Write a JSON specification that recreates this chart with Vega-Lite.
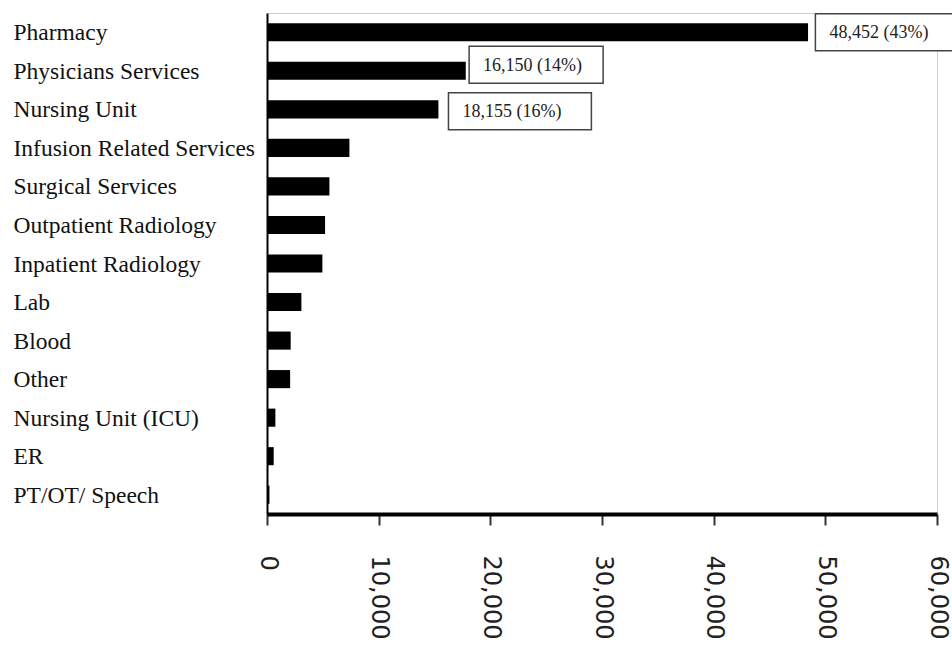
{
  "$schema": "https://vega.github.io/schema/vega-lite/v6.json",
  "width": 670,
  "height": 501,
  "padding": {"left": 13, "top": 13, "right": 0, "bottom": 0},
  "background": "white",
  "config": {
    "view": {"stroke": "#d0d0d0", "strokeWidth": 1}
  },
  "datasets": {
    "bars": [
      {"category": "Pharmacy", "value": 48452},
      {"category": "Physicians Services", "value": 17800},
      {"category": "Nursing Unit", "value": 15350},
      {"category": "Infusion Related Services", "value": 7380},
      {"category": "Surgical Services", "value": 5590},
      {"category": "Outpatient Radiology", "value": 5200},
      {"category": "Inpatient Radiology", "value": 4960},
      {"category": "Lab", "value": 3080},
      {"category": "Blood", "value": 2120},
      {"category": "Other", "value": 2070},
      {"category": "Nursing Unit (ICU)", "value": 750},
      {"category": "ER", "value": 600},
      {"category": "PT/OT/ Speech", "value": 220}
    ],
    "notes": [
      {"category": "Pharmacy", "start": 49110, "end": 61500, "label": "48,452 (43%)"},
      {"category": "Physicians Services", "start": 18100, "end": 30100, "label": "16,150 (14%)"},
      {"category": "Nursing Unit", "start": 16250, "end": 29050, "label": "18,155 (16%)"}
    ]
  },
  "layer": [
    {
      "data": {"name": "bars"},
      "mark": {"type": "bar", "color": "#000000"},
      "encoding": {
        "y": {
          "field": "category",
          "type": "nominal",
          "scale": {
            "domain": ["Pharmacy", "Physicians Services", "Nursing Unit", "Infusion Related Services", "Surgical Services", "Outpatient Radiology", "Inpatient Radiology", "Lab", "Blood", "Other", "Nursing Unit (ICU)", "ER", "PT/OT/ Speech"],
            "paddingInner": 0.53,
            "paddingOuter": 0.265
          },
          "axis": {
            "title": null,
            "ticks": false,
            "tickSize": 0,
            "labelAlign": "left",
            "labelPadding": 254,
            "labelFont": "Liberation Serif",
            "labelFontSize": 23.5,
            "labelColor": "#111111",
            "labelLimit": 300,
            "labelOffset": 1,
            "domainColor": "#000000",
            "domainWidth": 2
          }
        },
        "x": {
          "field": "value",
          "type": "quantitative",
          "scale": {"domain": [0, 60000], "nice": false},
          "axis": {
            "title": null,
            "values": [0, 10000, 20000, 30000, 40000, 50000, 60000],
            "format": ",.0f",
            "grid": false,
            "labelAngle": 90,
            "labelFont": "DejaVu Sans",
            "labelFontSize": 24,
            "labelColor": "#222222",
            "labelPadding": 30,
            "labelFlush": false,
            "labelOverlap": false,
            "tickSize": 11,
            "tickWidth": 2,
            "tickColor": "#333333",
            "domainColor": "#000000",
            "domainWidth": 4
          }
        }
      }
    },
    {
      "data": {"name": "notes"},
      "mark": {
        "type": "bar",
        "height": 37,
        "fill": "#ffffff",
        "stroke": "#444444",
        "strokeWidth": 1.5,
        "yOffset": {"expr": "datum.category === 'Physicians Services' ? -6 : (datum.category === 'Nursing Unit' ? 2 : 0)"}
      },
      "encoding": {
        "y": {"field": "category", "type": "nominal"},
        "x": {"field": "start", "type": "quantitative"},
        "x2": {"field": "end"}
      }
    },
    {
      "data": {"name": "notes"},
      "mark": {
        "type": "text",
        "align": "left",
        "baseline": "middle",
        "dx": 14,
        "font": "Liberation Serif",
        "fontSize": 18,
        "color": "#222222",
        "yOffset": {"expr": "datum.category === 'Physicians Services' ? -5 : (datum.category === 'Nursing Unit' ? 3 : 1)"}
      },
      "encoding": {
        "y": {"field": "category", "type": "nominal"},
        "x": {"field": "start", "type": "quantitative"},
        "text": {"field": "label"}
      }
    }
  ]
}
